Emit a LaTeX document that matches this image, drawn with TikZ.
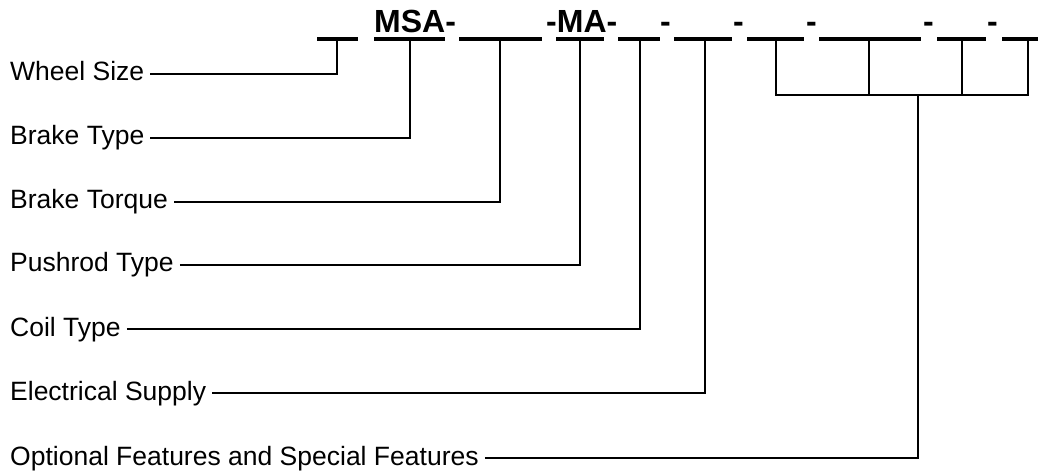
\documentclass[tikz,border=0pt]{standalone}
\usepackage{fontspec}
\setmainfont{Liberation Sans}
\usetikzlibrary{calc}

\begin{document}
\begin{tikzpicture}[x=1pt,y=-1pt,
  lbl/.style={anchor=west,inner sep=0pt,text height=19pt,text depth=5pt,
    font=\fontsize{26.5}{30}\selectfont},
  code/.style={anchor=base west,inner sep=0pt,font=\fontsize{32}{36}\selectfont\bfseries},
  sep/.style={anchor=base,inner sep=0pt,font=\fontsize{32}{36}\selectfont\bfseries},
  blank/.style={line width=4.5pt},
  lead/.style={line width=2.5pt}]
  \useasboundingbox (0,0) rectangle (1039,473);
  % model code
  \node[code] (msa) at (374,33) {MSA-};
  \node[code] (ma) at (546,33) {-MA-};
  \foreach \x/\n in {665.5/1,738.5/2,811.5/3,928.5/4,992.5/5}
    \node[sep] (d\n) at (\x,33) {-};
  % blanks, with a coordinate where each lead meets them
  \foreach \a/\b/\s/\n in {317/358/337/1,374/445/410/2,459/542/500/3,
      556/604/580/4,618/660/640/5,674/732/705/6,747/804/776/7,
      819/921/869/8,937/986/962/9,1002/1038/1028/10}{
    \draw[blank] (\a,39) -- (\b,39);
    \coordinate (s\n) at (\s,39);
  }
  % labels
  \node[lbl] (wheel) at (10,74) {Wheel Size};
  \node[lbl] (btype) at (10,138) {Brake Type};
  \node[lbl] (torque) at (10,202) {Brake Torque};
  \node[lbl] (push) at (10,265) {Pushrod Type};
  \node[lbl] (coil) at (10,329) {Coil Type};
  \node[lbl] (supply) at (10,393) {Electrical Supply};
  \node[lbl] (opt) at (10,458) {Optional Features and Special Features};
  % leads
  \draw[lead] ($(wheel.east)+(6,0)$) -| (s1);
  \draw[lead] ($(btype.east)+(6,0)$) -| (s2);
  \draw[lead] ($(torque.east)+(6,0)$) -| (s3);
  \draw[lead] ($(push.east)+(6,0)$) -| (s4);
  \draw[lead] ($(coil.east)+(6,0)$) -| (s5);
  \draw[lead] ($(supply.east)+(6,0)$) -| (s6);
  % bracket over the optional blanks
  \coordinate (b7) at (776,95);
  \coordinate (b10) at (1028,95);
  \coordinate (bm) at (918,95);
  \draw[lead] (s7) -- (b7) -- (b10) -- (s10);
  \draw[lead] (s8) -- (s8 |- b7);
  \draw[lead] (s9) -- (s9 |- b7);
  \draw[lead] ($(opt.east)+(6,0)$) -| (bm);
\end{tikzpicture}
\end{document}
